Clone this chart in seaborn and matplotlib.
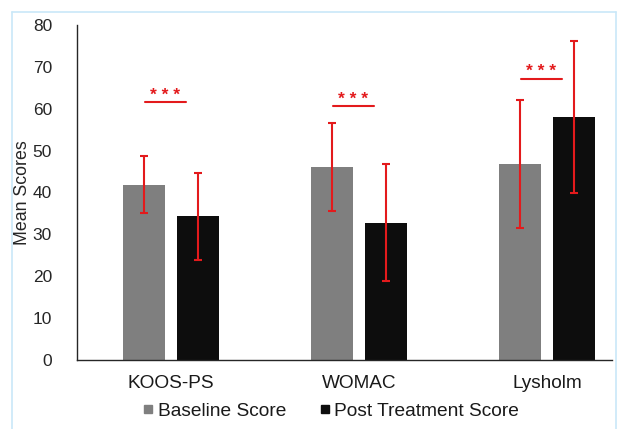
import numpy as np
import pandas as pd
import matplotlib
matplotlib.use("Agg")
import matplotlib.pyplot as plt
from matplotlib.lines import Line2D
import seaborn as sns

categories = ["KOOS-PS", "WOMAC", "Lysholm"]
series_names = ["Baseline Score", "Post Treatment Score"]
baseline = [41.9, 46.1, 46.8]
post = [34.3, 32.8, 58.0]
baseline_err = [6.8, 10.6, 15.2]
post_err = [10.4, 14.0, 18.2]
sig_y = [61.5, 60.6, 67.2]
sig_label = ["* * *", "* * *", "* * *"]
y_ticks = [0, 10, 20, 30, 40, 50, 60, 70, 80]

df = pd.DataFrame({
    "Measure": categories * 2,
    "Series": [series_names[0]] * 3 + [series_names[1]] * 3,
    "Score": baseline + post,
    "Err": baseline_err + post_err,
})

sns.set_style("white")
plt.rcParams["font.family"] = ["Liberation Sans", "DejaVu Sans"]

W, H = 618, 429
fig = plt.figure(figsize=(W / 100, H / 100), dpi=100)
ax_l, ax_r, ax_t, ax_b = 77, 612, 25, 360
ax = fig.add_axes([ax_l / W, 1 - ax_b / H, (ax_r - ax_l) / W, (ax_b - ax_t) / H])

palette = {series_names[0]: "#7f7f7f", series_names[1]: "#0d0d0d"}
sns.barplot(data=df, x="Measure", y="Score", hue="Series", order=categories,
            hue_order=series_names, palette=palette, width=0.574, gap=0.21,
            errorbar=None, ax=ax, saturation=1, legend=False, linewidth=0)

# error bars from bar positions
bars = [p for p in ax.patches]
for i, s in enumerate(series_names):
    vals = baseline if i == 0 else post
    errs = baseline_err if i == 0 else post_err
    for j in range(len(categories)):
        p = bars[i * len(categories) + j]
        xc = p.get_x() + p.get_width() / 2
        ax.errorbar(xc, vals[j], yerr=errs[j], fmt="none", ecolor="#e31a1c",
                    elinewidth=1.5, capsize=3.2, capthick=1.5, zorder=5)

# significance markers
for j in range(len(categories)):
    xc = j - 0.03
    ax.plot([xc - 0.11, xc + 0.11], [sig_y[j], sig_y[j]], color="#e31a1c", lw=1.5)
    ax.text(xc, sig_y[j] + 0.6, sig_label[j], color="#e31a1c", ha="center",
            va="baseline", fontsize=12.5, fontweight="bold")

ax.set_ylim(0, 80)
ax.set_xlim(-0.5, -0.5 + (ax_r - ax_l) / 188)
ax.set_yticks(y_ticks)
ax.set_yticklabels([str(t) for t in y_ticks], fontsize=12.5, color="#262626")
ax.tick_params(axis="y", length=0, pad=18)
ax.tick_params(axis="x", length=0, pad=11, labelsize=13.7, labelcolor="#1a1a1a")
ax.set_xlabel("")
ax.set_ylabel("Mean Scores", fontsize=12.8, color="#262626")
ax.yaxis.set_label_coords((22.5 - ax_l) / (ax_r - ax_l), 0.5)
ax.yaxis.label.set_verticalalignment("center")
for sp in ["top", "right"]:
    ax.spines[sp].set_visible(False)
for sp in ["left", "bottom"]:
    ax.spines[sp].set_color("#262626")
    ax.spines[sp].set_linewidth(1.0)

handles = [Line2D([0], [0], marker="s", linestyle="none", markersize=6,
                  markerfacecolor=palette[s], markeredgecolor=palette[s]) for s in series_names]
fig.legend(handles, series_names, loc="center", bbox_to_anchor=(330 / W, 1 - 411 / H),
           ncol=2, frameon=False, fontsize=13.8, handletextpad=0.1, columnspacing=1.6,
           handlelength=0.8, labelcolor="#1a1a1a")

# light blue frame
bc = "#c9e8f8"
fig.add_artist(Line2D([12 / W, 12 / W], [0, 1 - 12 / H], color=bc, lw=1.2, transform=fig.transFigure))
fig.add_artist(Line2D([12 / W, 616 / W], [1 - 12 / H, 1 - 12 / H], color=bc, lw=1.2, transform=fig.transFigure))
fig.add_artist(Line2D([616 / W, 616 / W], [0, 1 - 12 / H], color=bc, lw=1.2, transform=fig.transFigure))

fig.savefig("out.png", dpi=100)
